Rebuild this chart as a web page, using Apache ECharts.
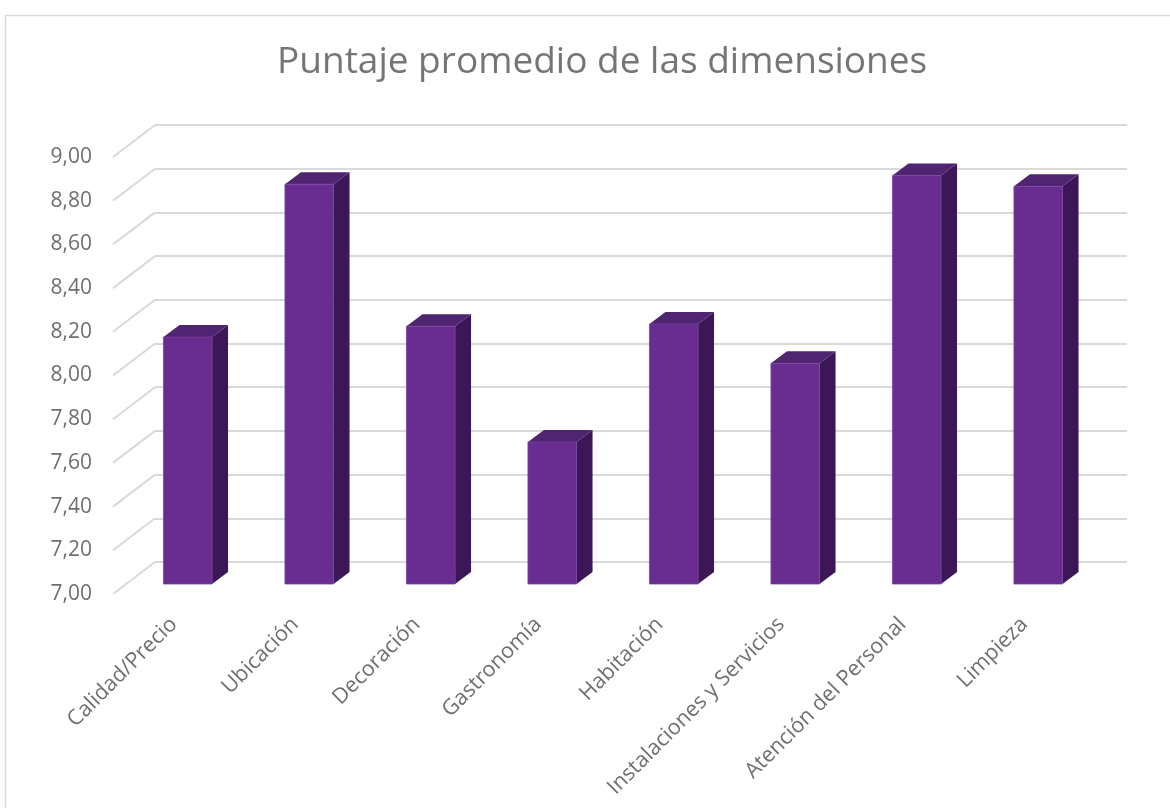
<!DOCTYPE html>
<html>
<head>
<meta charset="utf-8">
<script src="https://cdn.jsdelivr.net/npm/echarts@6/dist/echarts.min.js"></script>
<style>
  html, body { margin: 0; padding: 0; background: #ffffff; }
  #chart { width: 1170px; height: 808px; }
</style>
</head>
<body>
<div id="chart"></div>
<script>
// ---- data ----
const titleText = 'Puntaje promedio de las dimensiones';
const categories = ['Calidad/Precio', 'Ubicación', 'Decoración', 'Gastronomía', 'Habitación', 'Instalaciones y Servicios', 'Atención del Personal', 'Limpieza'];
const values = [8.13, 8.83, 8.18, 7.65, 8.19, 8.01, 8.87, 8.82];
const yTicks = [7.0, 7.2, 7.4, 7.6, 7.8, 8.0, 8.2, 8.4, 8.6, 8.8, 9.0];

// ---- styling / 3D geometry constants ----
const FONT = '"Open Sans", "Liberation Sans", sans-serif';
const DEPTH_X = 42, DEPTH_Y = -32;      // floor depth (front plane -> back wall)
const BAR_DX = 16, BAR_DY = -12;        // bar depth
const BAR_FRAC = 0.40;                  // bar width / category width
const Y_MIN = 7, Y_MAX = 9, Y_STEP = 0.2;

const chart = echarts.init(document.getElementById('chart'), null, { renderer: 'canvas' });

function valueAxis(idx, extra) {
  return Object.assign({
    type: 'value', gridIndex: idx, min: Y_MIN, max: Y_MAX, interval: Y_STEP,
    axisLine: { show: false }, axisTick: { show: false },
    axisLabel: { show: false }, splitLine: { show: false }
  }, extra || {});
}
function catAxis(idx, extra) {
  return Object.assign({
    type: 'category', gridIndex: idx, data: categories,
    axisLine: { show: false }, axisTick: { show: false },
    axisLabel: { show: false }, splitLine: { show: false }
  }, extra || {});
}

const option = {
  backgroundColor: '#ffffff',
  animation: false,
  title: {
    text: titleText, left: 272, top: 39,
    textStyle: { fontFamily: FONT, fontSize: 37, fontWeight: 'normal', color: '#757575' }
  },
  graphic: [{
    type: 'rect', left: 3, top: 13, z: -10,
    shape: { width: 1300, height: 900 },
    style: { fill: 'none', stroke: '#d9d9d9', lineWidth: 1.5 }
  }],
  grid: [
    { left: 155, top: 125, width: 972, height: 437 },   // back wall
    { left: 113, top: 157, width: 972, height: 437 },   // front plane (labels)
    { left: 127, top: 147, width: 972, height: 437 }    // bar front plane
  ],
  xAxis: [
    catAxis(0),
    catAxis(1, {
      axisLabel: {
        show: true, rotate: 45, margin: 27, interval: 0,
        fontFamily: FONT, fontSize: 21.5, color: '#6f6f6f'
      }
    }),
    catAxis(2)
  ],
  yAxis: [
    valueAxis(0, { splitLine: { show: true, lineStyle: { color: '#d9d9d9', width: 2 } } }),
    valueAxis(1, {
      axisLabel: {
        show: true, margin: 21, fontFamily: FONT, fontSize: 21, color: '#6f6f6f',
        formatter: v => v.toFixed(2).replace('.', ',')
      }
    }),
    valueAxis(2)
  ],
  series: [
    {
      type: 'custom', name: 'sidewall', xAxisIndex: 1, yAxisIndex: 1, clip: false, z: 1,
      data: yTicks.map(v => [0, v]),
      renderItem: function (params, api) {
        const p = api.coord([0, api.value(1)]);
        const x0 = p[0] - api.size([1, 0])[0] / 2;
        return {
          type: 'line',
          shape: { x1: x0, y1: p[1], x2: x0 + DEPTH_X, y2: p[1] + DEPTH_Y },
          style: { stroke: '#d9d9d9', lineWidth: 2 }
        };
      }
    },
    {
      type: 'custom', name: 'Puntaje', xAxisIndex: 2, yAxisIndex: 2, clip: false, z: 5,
      data: values.map((v, i) => [i, v]),
      renderItem: function (params, api) {
        const i = api.value(0), v = api.value(1);
        const top = api.coord([i, v]);
        const base = api.coord([i, Y_MIN]);
        const w = api.size([1, 0])[0] * BAR_FRAC;
        const x1 = top[0] - w / 2, x2 = x1 + w;
        return {
          type: 'group',
          children: [
            { type: 'polygon',
              shape: { points: [[x2, top[1]], [x2 + BAR_DX, top[1] + BAR_DY], [x2 + BAR_DX, base[1] + BAR_DY], [x2, base[1]]] },
              style: { fill: '#3c1757' } },
            { type: 'polygon',
              shape: { points: [[x1, top[1]], [x1 + BAR_DX, top[1] + BAR_DY], [x2 + BAR_DX, top[1] + BAR_DY], [x2, top[1]]] },
              style: { fill: '#4f2470' } },
            { type: 'rect',
              shape: { x: x1, y: top[1], width: w, height: base[1] - top[1] },
              style: { fill: '#692c90', stroke: '#7a42a0', lineWidth: 0.8 } }
          ]
        };
      }
    }
  ]
};
chart.setOption(option);
</script>
</body>
</html>
